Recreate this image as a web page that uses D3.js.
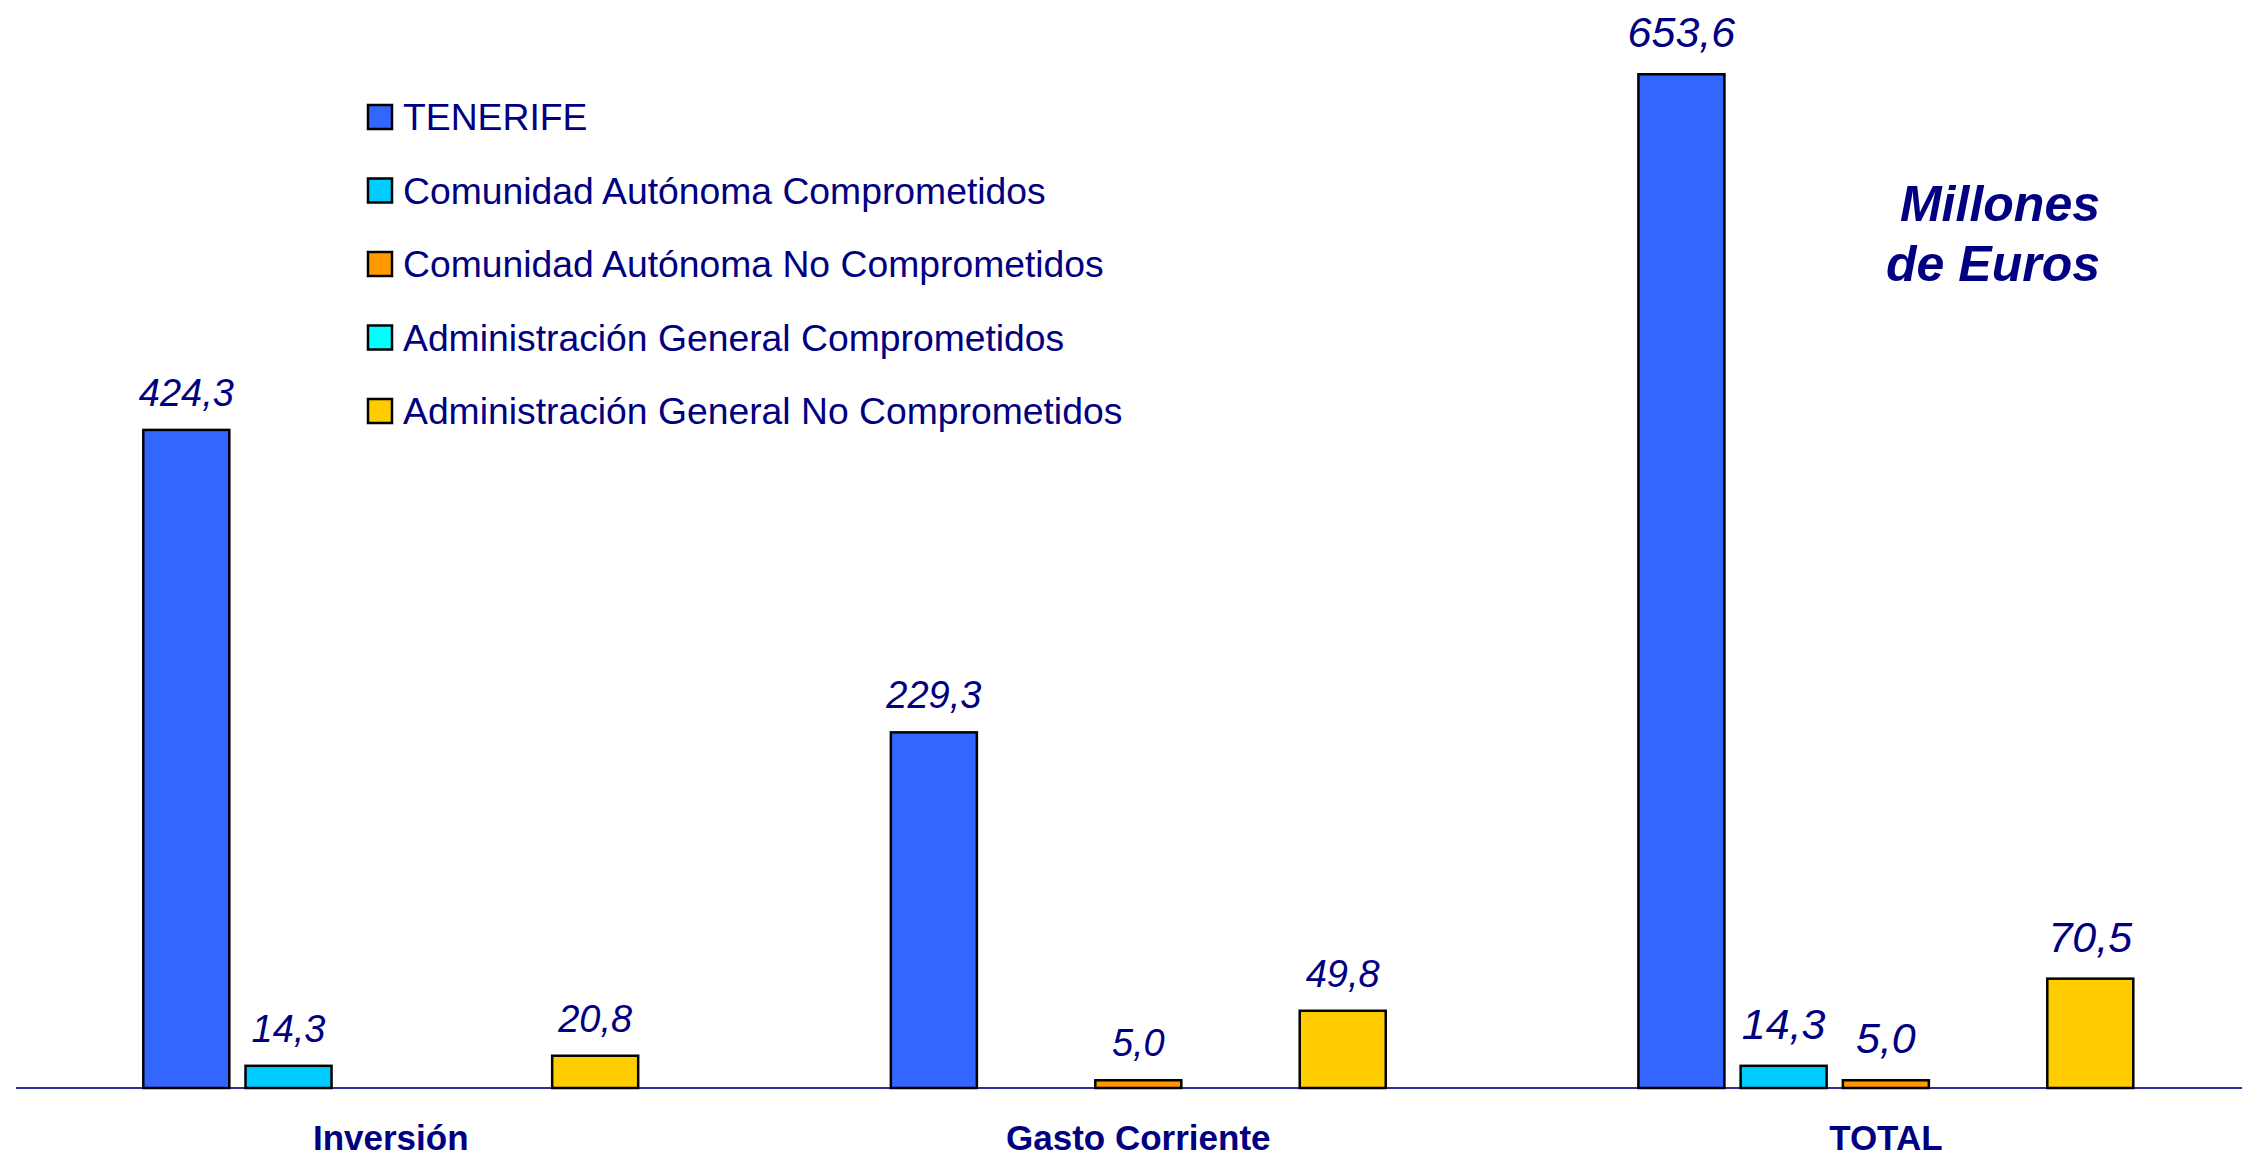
<!DOCTYPE html>
<meta charset="utf-8">
<script src="https://d3js.org/d3.v7.min.js"></script>
<style>
  body { margin: 0; background: #fff; }
  text { font-family: "Liberation Sans", Arial, sans-serif; }
</style>
<body>
<div id="chart"></div>
<script>

// categories and series
var categories = ["Inversión", "Gasto Corriente", "TOTAL"];
var series = ["TENERIFE",
              "Comunidad Autónoma Comprometidos",
              "Comunidad Autónoma No Comprometidos",
              "Administración General Comprometidos",
              "Administración General No Comprometidos"];
var colors = ["#3366ff", "#00ccff", "#ff9900", "#00ffff", "#ffcc00"];

// values per series (one entry per category)
var tenerife   = [424.3, 229.3, 653.6];
var caComp     = [14.3, 0, 14.3];
var caNoComp   = [0, 5.0, 5.0];
var agComp     = [0, 0, 0];
var agNoComp   = [20.8, 49.8, 70.5];
var values = [tenerife, caComp, caNoComp, agComp, agNoComp];

var width = 2242, height = 1156;
var baseY = 1088;

var svg = d3.select("#chart").append("svg")
    .attr("width", width)
    .attr("height", height);

// scales
var x0 = d3.scaleBand()
    .domain(categories)
    .range([143.3, 2133.3])
    .paddingInner(0.338)
    .paddingOuter(0);

var x1 = d3.scaleBand()
    .domain(series)
    .range([0, x0.bandwidth()])
    .paddingInner(0.1585)
    .paddingOuter(0);

var y = d3.scaleLinear()
    .domain([0, 700])
    .range([baseY, baseY - 700 * 1.551]);

// build flat rows for the bars
var rows = [];
categories.forEach(function(c, ci) {
  series.forEach(function(s, si) {
    rows.push({cat: c, ci: ci, ser: s, si: si, v: values[si][ci]});
  });
});
var shown = rows.filter(function(d) { return d.v > 0; });

// baseline
svg.append("line")
    .attr("x1", 16).attr("x2", width)
    .attr("y1", baseY).attr("y2", baseY)
    .attr("stroke", "#2e2e9e")
    .attr("stroke-width", 2);

// bars
svg.append("g")
  .selectAll("rect")
  .data(shown)
  .enter()
  .append("rect")
    .attr("x", function(d) { return x0(d.cat) + x1(d.ser); })
    .attr("y", function(d) { return y(d.v); })
    .attr("width", x1.bandwidth())
    .attr("height", function(d) { return baseY - y(d.v); })
    .attr("fill", function(d) { return colors[d.si]; })
    .attr("stroke", "#000")
    .attr("stroke-width", 2.5);

// value labels
var fmt = function(v) { return d3.format(".1f")(v).replace(".", ","); };
svg.append("g")
  .selectAll("text")
  .data(shown)
  .enter()
  .append("text")
    .attr("x", function(d) { return x0(d.cat) + x1(d.ser) + x1.bandwidth() / 2; })
    .attr("y", function(d) { return y(d.v) - (d.ci == 2 ? 27 : 24); })
    .attr("text-anchor", "middle")
    .attr("font-style", "italic")
    .attr("font-size", function(d) { return d.ci == 2 ? 43 : 38; })
    .attr("fill", "#000080")
    .text(function(d) { return fmt(d.v); });

// category labels
svg.append("g")
  .selectAll("text")
  .data(categories)
  .enter()
  .append("text")
    .attr("x", function(d) { return x0(d) + x0.bandwidth() / 2; })
    .attr("y", 1150)
    .attr("text-anchor", "middle")
    .attr("font-weight", "bold")
    .attr("font-size", 35)
    .attr("fill", "#000080")
    .text(function(d) { return d; });

// legend
var legend = svg.append("g")
  .selectAll("g")
  .data(series)
  .enter()
  .append("g")
    .attr("transform", function(d, i) { return "translate(368," + (105 + i * 73.5) + ")"; });

legend.append("rect")
    .attr("width", 24)
    .attr("height", 24)
    .attr("fill", function(d, i) { return colors[i]; })
    .attr("stroke", "#000")
    .attr("stroke-width", 2.5);

legend.append("text")
    .attr("x", 35)
    .attr("y", 25)
    .attr("font-size", 37.3)
    .attr("fill", "#000080")
    .text(function(d) { return d; });

// units note
var note = svg.append("text")
    .attr("text-anchor", "end")
    .attr("font-weight", "bold")
    .attr("font-style", "italic")
    .attr("font-size", 50)
    .attr("fill", "#000080");
note.append("tspan").attr("x", 2100).attr("y", 221).text("Millones");
note.append("tspan").attr("x", 2100).attr("y", 281).text("de Euros");

</script>
</body>
